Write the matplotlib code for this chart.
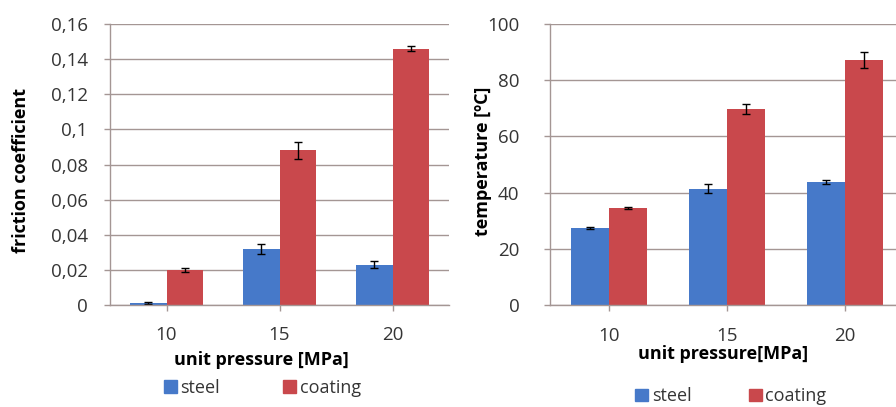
import numpy as np
import matplotlib
matplotlib.use("Agg")
import matplotlib.pyplot as plt
from matplotlib.patches import Patch
from matplotlib.ticker import FuncFormatter

plt.rcParams['font.family'] = ['Open Sans', 'DejaVu Sans']

# data
pressure = ['10', '15', '20']
series = ['steel', 'coating']

friction_steel = [0.001, 0.032, 0.023]
friction_steel_err = [0.0005, 0.0028, 0.0022]
friction_coat = [0.020, 0.088, 0.146]
friction_coat_err = [0.0012, 0.0048, 0.0014]

temp_steel = [27.5, 41.4, 43.9]
temp_steel_err = [0.3, 1.6, 0.7]
temp_coat = [34.6, 69.8, 87.3]
temp_coat_err = [0.4, 1.7, 2.8]

blue = '#4679c9'
red = '#c9484c'
grid_col = '#a49694'
tick_col = '#353535'

fig = plt.figure(figsize=(8.96, 4.07), dpi=100)
fig.patch.set_facecolor('white')

ax1 = fig.add_axes([110/896, 102/407, 339/896, 281/407])
ax2 = fig.add_axes([550/896, 102/407, 354/896, 281/407])

x = np.arange(len(pressure))
w = 0.32


def style(ax):
    ax.set_xlim(-0.5, 2.5)
    ax.set_xticks(x)
    ax.set_xticklabels(pressure)
    for s in ['top', 'right']:
        ax.spines[s].set_visible(False)
    for s in ['left', 'bottom']:
        ax.spines[s].set_color(grid_col)
        ax.spines[s].set_linewidth(1.0)
    ax.yaxis.grid(True, color=grid_col, linewidth=1.0)
    ax.set_axisbelow(True)
    ax.tick_params(axis='both', colors=grid_col, labelcolor=tick_col,
                   labelsize=13.5, length=4, width=1.0)


errkw = dict(ecolor='black', capsize=3, error_kw=dict(elinewidth=1, capthick=1))

# left: friction coefficient
ax1.bar(x - w/2, friction_steel, w, color=blue, yerr=friction_steel_err, **errkw)
ax1.bar(x + w/2, friction_coat, w, color=red, yerr=friction_coat_err, **errkw)
style(ax1)
ax1.set_ylim(0, 0.16)
ax1.set_yticks(np.arange(0, 0.161, 0.02))
ax1.yaxis.set_major_formatter(FuncFormatter(
    lambda v, p: ('%g' % round(v, 2)).replace('.', ',')))
ax1.tick_params(axis='y', pad=12)
ax1.tick_params(axis='x', pad=11)
ax1.set_ylabel('friction coefficient', fontsize=13, fontweight='bold', va='center')
ax1.yaxis.set_label_coords(-0.262, 0.48)
ax1.set_xlabel('unit pressure [MPa]', fontsize=13, fontweight='bold', va='center')
ax1.xaxis.set_label_coords(0.448, -0.196)

# right: temperature
ax2.bar(x - w/2, temp_steel, w, color=blue, yerr=temp_steel_err, **errkw)
ax2.bar(x + w/2, temp_coat, w, color=red, yerr=temp_coat_err, **errkw)
style(ax2)
ax2.set_ylim(0, 100)
ax2.set_yticks(np.arange(0, 101, 20))
ax2.tick_params(axis='y', pad=18)
ax2.tick_params(axis='x', pad=12)
ax2.set_ylabel('temperature [ºC]', fontsize=13, fontweight='bold', va='center')
ax2.yaxis.set_label_coords(-0.19, 0.51)
ax2.set_xlabel('unit pressure[MPa]', fontsize=13, fontweight='bold', va='center')
ax2.xaxis.set_label_coords(0.489, -0.175)

handles = [Patch(color=blue, label=series[0]), Patch(color=red, label=series[1])]
legkw = dict(ncol=2, frameon=False, fontsize=13, handlelength=0.7,
             handleheight=0.7, handletextpad=0.2, loc='center',
             labelcolor=tick_col, borderpad=0, borderaxespad=0)
ax1.legend(handles=handles, bbox_to_anchor=(0.45, -0.295), columnspacing=3.5, **legkw)
ax2.legend(handles=handles, bbox_to_anchor=(0.511, -0.325), columnspacing=3.2, **legkw)

fig.savefig('out.png', dpi=100, facecolor='white')
